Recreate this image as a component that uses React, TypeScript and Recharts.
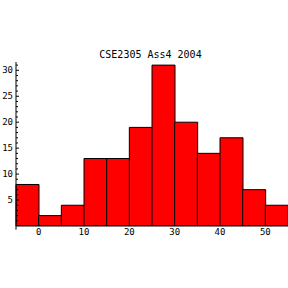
import React from 'react';
import { BarChart, Bar, XAxis, YAxis, ReferenceLine } from 'recharts';

const binStarts = [-5, 0, 5, 10, 15, 20, 25, 30, 35, 40, 45, 50];
const counts = [8, 2, 4, 13, 13, 19, 31, 20, 14, 17, 7, 4];
const xTicks = [0, 10, 20, 30, 40, 50];
const yTicks = [1, 2, 3, 4, 5, 6, 7, 8, 9, 10, 11, 12, 13, 14, 15, 16, 17, 18, 19, 20, 21, 22, 23, 24, 25, 26, 27, 28, 29, 30, 31];
const title = 'CSE2305 Ass4 2004';

const data = binStarts.map((s, i) => ({ bin: `${s}`, center: s + 2.5, count: counts[i] }));

const FONT = '"DejaVu Sans Mono", "Liberation Mono", monospace';

const YTick = (props: any) => {
  const { x, y, payload } = props;
  const v = payload.value;
  const major = v % 5 === 0;
  const ax = x + 3;
  return (
    <g>
      <line x1={ax} x2={ax + (major ? 3 : 2)} y1={y} y2={y} stroke="#000" strokeWidth={1} />
      {major ? (
        <text x={x} y={y} dy="0.355em" textAnchor="end" fontSize={9} fontFamily={FONT} fill="#000">
          {v}
        </text>
      ) : null}
    </g>
  );
};

export default function App() {
  return (
    <div style={{ position: 'absolute', left: 0, top: 0, width: 288, height: 288, background: '#fff' }}>
      <div
        style={{
          position: 'absolute',
          top: 49,
          left: 0,
          width: 301,
          textAlign: 'center',
          fontFamily: FONT,
          fontSize: 10,
          lineHeight: '12px',
          color: '#000',
        }}
      >
        {title}
      </div>
      <BarChart
        width={288}
        height={288}
        data={data}
        margin={{ top: 62, right: 0, bottom: 42, left: 1 }}
        barCategoryGap={0}
      >
        <XAxis xAxisId="cat" dataKey="bin" type="category" orientation="top" height={0} hide />
        <XAxis
          xAxisId="num"
          dataKey="center"
          type="number"
          domain={[-5, 55]}
          allowDataOverflow
          ticks={xTicks}
          tickLine={false}
          tickSize={0}
          tickMargin={3}
          height={20}
          axisLine={{ stroke: '#000' }}
          tick={{ fontSize: 9, fontFamily: FONT, fill: '#000' }}
        />
        <YAxis
          type="number"
          domain={[0, 31.6]}
          allowDataOverflow
          ticks={yTicks}
          interval={0}
          width={15}
          tickLine={false}
          tickSize={0}
          tickMargin={3}
          axisLine={{ stroke: '#000' }}
          tick={<YTick />}
        />
        <Bar
          xAxisId="cat"
          dataKey="count"
          fill="#ff0000"
          stroke="#000"
          strokeWidth={1}
          isAnimationActive={false}
        />
        <ReferenceLine
          xAxisId="num"
          segment={[{ x: -5, y: 0 }, { x: -5, y: -0.7 }]}
          stroke="#000"
          ifOverflow="visible"
        />
      </BarChart>
    </div>
  );
}
